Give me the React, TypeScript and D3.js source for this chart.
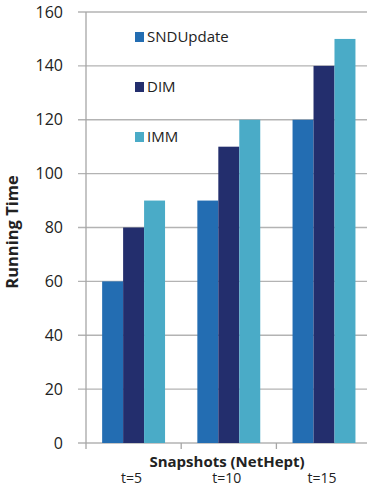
import React from "react";
import * as d3 from "d3";

const categories = ["t=5", "t=10", "t=15"];
const seriesNames = ["SNDUpdate", "DIM", "IMM"];
const sndUpdate = [60, 90, 120];
const dim = [80, 110, 140];
const imm = [90, 120, 150];
const yTicks = [0, 20, 40, 60, 80, 100, 120, 140, 160];
const colors = ["#236db2", "#232e6d", "#4aabc7"];

export default function App() {
  const W = 367, H = 489;
  const series = [sndUpdate, dim, imm];
  const x0 = 86, x1 = 371.6;
  const y = d3.scaleLinear().domain([0, 160]).range([443, 12]);
  const xb = d3.scaleBand().domain(categories).range([x0, x1]).paddingInner(0).paddingOuter(0);
  const inner = d3.scaleBand().domain(seriesNames).range([0, xb.bandwidth()]).paddingInner(0).paddingOuter(0.77);
  const font = "'Open Sans', sans-serif";
  return (
    <svg width={W} height={H} style={{ position: "absolute", left: 0, top: 0, background: "#fff" }}>
      {yTicks.map((t) => (
        <g key={t}>
          <line x1={x0 - 8} x2={W} y1={y(t)} y2={y(t)} stroke="#b3b3b3" strokeWidth={1.3} />
          <text x={63} y={y(t)} dy="0.35em" textAnchor="end" fontFamily={font} fontSize={16} fill="#222">{t}</text>
        </g>
      ))}
      <line x1={x0} x2={x0} y1={y(160)} y2={y(0) + 6} stroke="#a6a6a6" strokeWidth={1.3} />
      {categories.map((c) => (
        <line key={c} x1={xb(c)! + xb.bandwidth()} x2={xb(c)! + xb.bandwidth()} y1={y(0)} y2={y(0) + 6} stroke="#a6a6a6" strokeWidth={1.3} />
      ))}
      {categories.map((c, i) =>
        seriesNames.map((s, j) => (
          <rect key={c + s} x={xb(c)! + inner(s)!} width={inner.bandwidth()} y={y(series[j][i])} height={y(0) - y(series[j][i])} fill={colors[j]} />
        ))
      )}
      {categories.map((c) => (
        <text key={c} x={xb(c)! + xb.bandwidth() / 2 - 2} y={483} textAnchor="middle" fontFamily={font} fontSize={14} fill="#222">{c}</text>
      ))}
      <text x={227} y={467} textAnchor="middle" fontFamily={font} fontSize={15} fontWeight="bold" fill="#222">Snapshots (NetHept)</text>
      <text transform={`translate(18,232) rotate(-90)`} textAnchor="middle" fontFamily={font} fontSize={16.5} fontWeight="bold" fill="#222">Running Time</text>
      {seriesNames.map((s, j) => (
        <g key={s} transform={`translate(135, ${37 + j * 50})`}>
          <rect x={0} y={-5} width={9} height={10} fill={colors[j]} />
          <text x={12} y={0} dy="0.35em" fontFamily={font} fontSize={15} fill="#222">{s}</text>
        </g>
      ))}
    </svg>
  );
}
